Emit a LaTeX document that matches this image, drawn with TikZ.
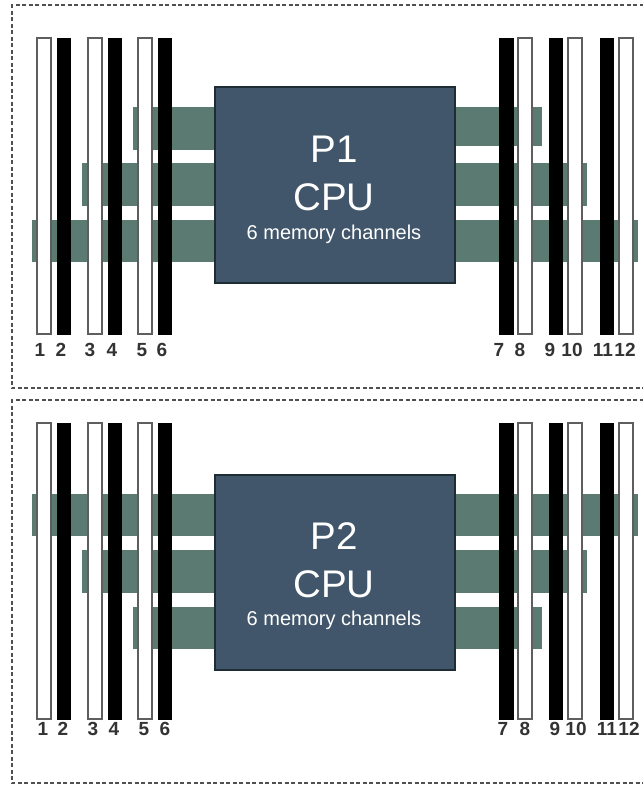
\documentclass[tikz,border=0pt]{standalone}
\usepackage{fontspec}
\setmainfont{Liberation Sans}
\definecolor{cpufill}{HTML}{41566A}
\definecolor{cpuedge}{HTML}{1E2C34}
\definecolor{chan}{HTML}{5A7A72}
\definecolor{dashc}{HTML}{505050}
\definecolor{dimmedge}{HTML}{5E5E5E}
\definecolor{lbl}{HTML}{333333}
\tikzset{
  panel/.style={draw=dashc,line width=1.3pt,dash pattern=on 4pt off 2.5pt},
  chanbar/.style={draw=none,fill=chan},
  cpubox/.style={draw=cpuedge,fill=cpufill,line width=1.2pt},
  whitedimm/.style={draw=dimmedge,fill=white,line width=1.3pt},
  blackdimm/.style={draw=black,fill=black,line width=.5pt},
  numlbl/.style={font=\fontsize{19}{19}\selectfont\bfseries,text=lbl,inner sep=0pt},
  biglbl/.style={text=white,inner sep=0pt,font=\fontsize{38.5}{38.5}\selectfont},
  smalllbl/.style={text=white,inner sep=0pt,font=\fontsize{20}{20}\selectfont}
}
\begin{document}
\begin{tikzpicture}[x=1pt,y=-1pt]
\useasboundingbox (0,0) rectangle (643,785);
\fill[white] (0,0) rectangle (643,785);
% panels
\draw[panel] (650,5) -- (12,5) -- (12,388) -- (650,388);
\draw[panel] (650,400) -- (12,400) -- (12,783) -- (650,783);
% channels, top
\path[chanbar] (133,107) rectangle (220,150);
\path[chanbar] (82,163) rectangle (220,206);
\path[chanbar] (32,220) rectangle (220,262);
\path[chanbar] (450,107) rectangle (542,146);
\path[chanbar] (450,163) rectangle (587,206);
\path[chanbar] (450,220) rectangle (638,262);
% channels, bottom
\path[chanbar] (32,494) rectangle (220,536);
\path[chanbar] (82,550) rectangle (220,593);
\path[chanbar] (133,607) rectangle (220,649);
\path[chanbar] (450,494) rectangle (638,536);
\path[chanbar] (450,550) rectangle (587,593);
\path[chanbar] (450,607) rectangle (542,649);
% CPUs
\path[cpubox] (215,87) rectangle (455,283);
\path[cpubox] (215,475) rectangle (455,670);
\node[biglbl] (pA) at (334,149) {P1};
\node[biglbl] (cA) at (334,197) {CPU};
\node[smalllbl] (mA) at (334,234) {6 memory channels};
\node[biglbl] (pB) at (334,536) {P2};
\node[biglbl] (cB) at (334,584) {CPU};
\node[smalllbl] (mB) at (334,620) {6 memory channels};
% DIMMs
\foreach \a/\b/\s in {37/51/whitedimm,57/70/blackdimm,88/102/whitedimm,108/121/blackdimm,138/152/whitedimm,158/171/blackdimm,
  499/513/blackdimm,518/532/whitedimm,549/562/blackdimm,568/582/whitedimm,600/613/blackdimm,619/633/whitedimm}{
  \path[\s] (\a,38) rectangle (\b,334);
  \path[\s] (\a,423) rectangle (\b,719);
}
% labels
\foreach \t/\x in {1/40,2/61,3/90,4/112,5/142,6/162,7/499,8/520,9/550,10/572,11/603,12/625}
  \node[numlbl] (t\t) at (\x,350) {\t};
\foreach \t/\x in {1/43,2/63,3/93,4/114,5/144,6/165,7/503,8/525,9/555,10/576,11/607,12/629}
  \node[numlbl] (b\t) at (\x,729) {\t};
\end{tikzpicture}
\end{document}
